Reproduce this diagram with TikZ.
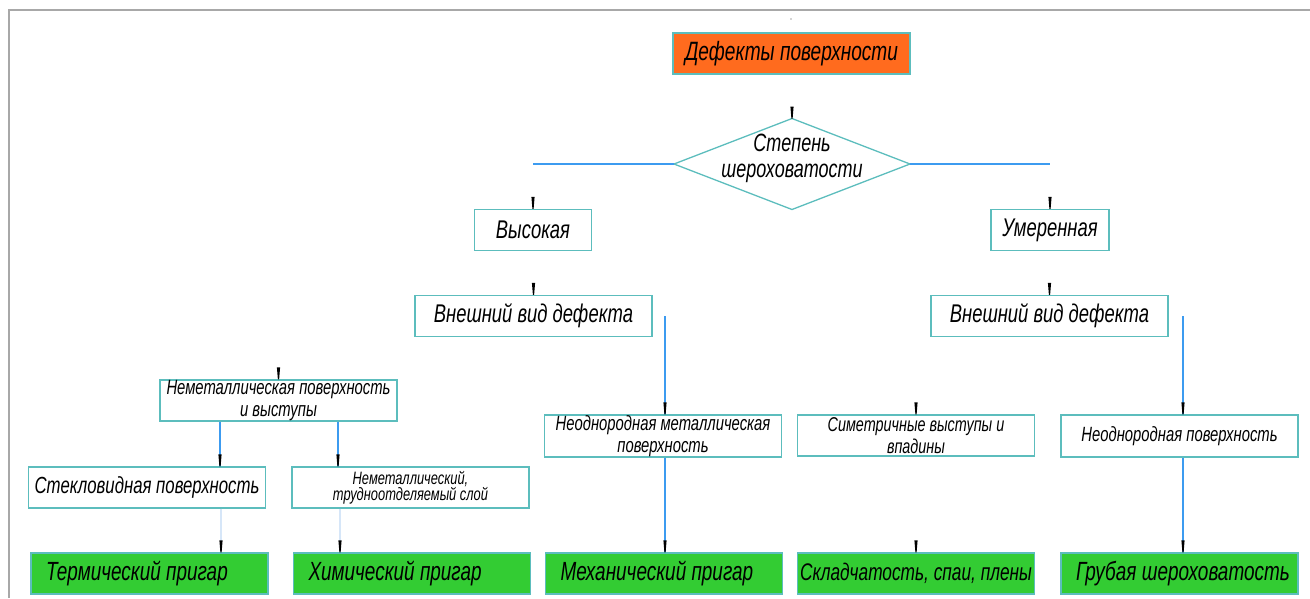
\documentclass[tikz,border=0pt]{standalone}
\usepackage{fontspec}
\setmainfont{Liberation Sans}[FakeStretch=0.72]
\usetikzlibrary{calc}
\definecolor{boxedge}{HTML}{5CBDBD}
\definecolor{orangefill}{HTML}{FF6B1E}
\definecolor{gfill}{HTML}{33CC33}
\definecolor{lineblue}{HTML}{3C9BF0}
\definecolor{faintblue}{HTML}{D6E6F8}
\definecolor{framegray}{HTML}{A8A8A8}
\tikzset{
 box/.style={draw=boxedge, line width=1.3pt, fill=white, inner sep=0pt, align=center,
   minimum width=237, minimum height=41},
 fbig/.style={font=\fontsize{25.6}{28}\selectfont\itshape},
 fmid/.style={font=\fontsize{20.6}{21.5}\selectfont\itshape},
 fsmall/.style={font=\fontsize{17.9}{16.5}\selectfont\itshape},
 gbox/.style={box, fill=gfill, font=\fontsize{26.3}{28}\selectfont\itshape},
 conn/.style={draw=lineblue, line width=1.8pt},
 faint/.style={draw=faintblue, line width=1.8pt},
 edge/.style={draw=boxedge, line width=1.3pt},
 tickmark/.pic={\fill[black] (-1.6,-12) -- (1.6,-12) -- (0.6,0) -- (-0.6,0) -- cycle;}
}
\begin{document}
\begin{tikzpicture}[x=1pt,y=-1pt]
\useasboundingbox (0,0) rectangle (1310,598);
% window frame
\draw[framegray, line width=2.2pt] (9,598) -- (9,10) -- (1310,10);
\fill[framegray] (791,19) circle (0.8);

% nodes
\node[box, fill=orangefill, font=\fontsize{26.5}{28}\selectfont\itshape] (title) at (791.5,53.5) {Дефекты поверхности};
\node[inner sep=0pt, outer sep=0pt, minimum width=236, minimum height=91] (dia) at (792,164) {};
\draw[edge] (dia.north) -- (dia.east) -- (dia.south) -- (dia.west) -- cycle;
\node[inner sep=0pt, align=center, font=\fontsize{25}{26}\selectfont\itshape] (diatext) at ($(dia.center)+(0,-6)$) {Степень\\шероховатости};

\node[box, minimum width=117, fbig] (vys) at (533,230) {Высокая};
\node[box, minimum width=118, fbig] (umer) at (1050,230) {Умеренная};

\node[box, fbig] (vv1) at (533.5,316) {Внешний вид дефекта};
\node[box, fbig] (vv2) at (1049.5,316) {Внешний вид дефекта};

\node[box, fmid] (nmv) at (278.5,400.5) {Неметаллическая поверхность\\и выступы};
\node[box, font=\fontsize{23.3}{24}\selectfont\itshape] (stek) at (147,487.5) {Стекловидная поверхность};
\node[box, fsmall] (sloi) at (410.5,487.5) {Неметаллический,\\трудноотделяемый слой};

\node[box, fmid, minimum height=42] (nmp) at (663,436) {Неоднородная металлическая\\поверхность};
\node[box, font=\fontsize{20}{21.5}\selectfont\itshape] (sim) at (916,435.5) {Симетричные выступы и\\впадины};
\node[box, fmid, minimum height=42] (np) at (1179.5,436) {Неоднородная поверхность};

\node[gbox] (term) at (149.5,573.5) {\makebox[207pt][l]{Термический пригар}};
\node[gbox] (chem) at (412,573.5) {\makebox[207pt][l]{Химический пригар}};
\node[gbox] (mech) at (664,573.5) {\makebox[207pt][l]{Механический пригар}};
\node[gbox, font=\fontsize{24}{28}\selectfont\itshape] (skl) at (916,573.5) {Складчатость, спаи, плены};
\node[gbox] (grub) at (1179.5,573.5) {\makebox[207pt][l]{Грубая шероховатость}};

% connector end points
\coordinate (b1) at ($(nmp.center)+(2,21.65)$);
\coordinate (b1e) at (b1 |- mech.north);
\coordinate (b2) at ($(np.center)+(3.5,21.65)$);
\coordinate (b2e) at (b2 |- grub.north);
\coordinate (a1) at (b1 |- vv1.center);
\coordinate (a1e) at (b1 |- nmp.north);
\coordinate (a2) at (b2 |- vv2.center);
\coordinate (a2e) at (b2 |- np.north);
\coordinate (c1) at ($(nmv.center)+(-58.5,21.15)$);
\coordinate (c1e) at (c1 |- stek.north);
\coordinate (c2) at ($(nmv.center)+(59.5,21.15)$);
\coordinate (c2e) at (c2 |- sloi.north);
\coordinate (d1) at ($(stek.center)+(74,21.15)$);
\coordinate (d1e) at (d1 |- term.north);
\coordinate (d2) at ($(sloi.center)+(-70.5,21.15)$);
\coordinate (d2e) at (d2 |- chem.north);

% connectors
\draw[conn] (dia.west) -- (dia.west -| vys.north);
\draw[conn] (dia.east) -- (dia.east -| umer.north);
\draw[conn] (a1) -- (a1e);
\draw[conn] (a2) -- (a2e);
\draw[conn] (b1) -- (b1e);
\draw[conn] (b2) -- (b2e);
\draw[conn] (c1) -- (c1e);
\draw[conn] (c2) -- (c2e);
\draw[faint] (d1) -- (d1e);
\draw[faint] (d2) -- (d2e);

% arrow ticks
\foreach \p in {dia.north, vys.north, umer.north, vv1.north, vv2.north, nmv.north,
  sim.north, skl.north, a1e, a2e, b1e, b2e, c1e, c2e, d1e, d2e}
  \pic at (\p) {tickmark};
\end{tikzpicture}
\end{document}
